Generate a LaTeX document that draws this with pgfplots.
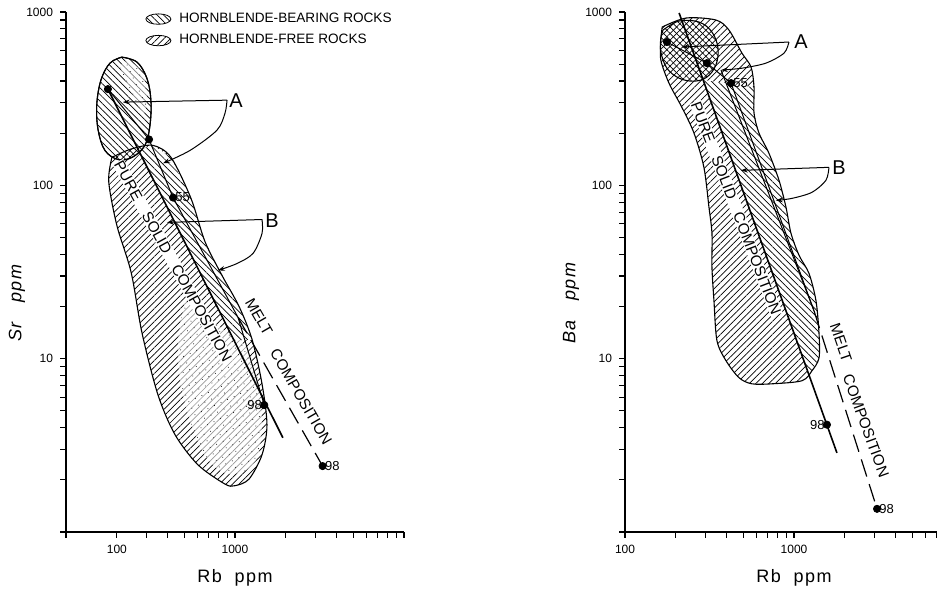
\documentclass[border=0pt]{standalone}
\usepackage{fontspec}
\setmainfont{Liberation Sans}
\newfontfamily\lett[LetterSpace=8]{Liberation Sans}
\usepackage{pgfplots}
\pgfplotsset{compat=1.18}
\usetikzlibrary{patterns.meta,arrows.meta}

\tikzset{
 hbB/.style={pattern={Lines[angle=-45,distance=2.3pt,line width=0.35pt]}},
 hbF/.style={pattern={Lines[angle=45,distance=2.3pt,line width=0.35pt]}},
 stip/.style={pattern={Dots[distance=3.6pt,radius=0.25pt,angle=25]}},
 outl/.style={draw=black,line width=0.55pt},
 arr/.style={line width=0.5pt,-{Stealth[length=3.4pt,width=2.4pt]}},
 lab/.style={font=\fontsize{6.5}{7}\selectfont,inner sep=1pt},
 big/.style={font=\fontsize{10}{11}\selectfont},
 ctext/.style={font=\fontsize{7.6}{8}\selectfont,fill=white,inner sep=0.4pt},
}
\pgfplotsset{
 every axis/.append style={
  scale only axis,
  width=169pt, height=260pt,
  xmin=100, xmax=10000, ymin=1, ymax=1000,
  axis lines=left, axis line style={-, line width=0.8pt},
  tick align=outside, major tick length=3pt, minor tick length=3pt,
  tick style={line width=0.6pt, black},
  every tick label/.append style={font=\fontsize{6}{7}\selectfont},
  ytick={1,10,100,1000}, yticklabels={,10,100,1000},
  xlabel style={at={(axis description cs:0.5,-0.088)}, anchor=center, font=\lett\fontsize{9}{10}\selectfont},
  ylabel style={anchor=center, font=\itshape\lett\fontsize{9}{10}\selectfont},
 },
 ellleg/.style={legend image code/.code={\draw[##1,line width=0.4pt] (6.25pt,0) ellipse (6.25pt and 2.6pt);}},
}

\begin{document}
\begin{tikzpicture}[x=0.5pt,y=0.5pt]
\path[use as bounding box] (0,0) rectangle (937,593);
\clip (0,0) rectangle (937,593);

% ---------------- LEFT PANEL : Sr vs Rb ----------------
\begin{loglogaxis}[at={(33pt,30.5pt)}, anchor=south west,
  xtick={100,1000,10000}, xticklabels={,1000,},
  extra x ticks={200}, extra x tick labels={100},
  xlabel={Rb\ \ ppm},
  ylabel={Sr\ \ \ ppm},
  ylabel style={at={(axis description cs:-0.145,0.44)}},
  legend style={draw=none, fill=none, at={(0.234,1.003)}, anchor=north west,
    font=\fontsize{6.8}{7}\selectfont, row sep=2.5pt, inner sep=0pt,
    nodes={inner sep=1pt},
    /tikz/every odd column/.append style={column sep=3pt}},
  legend cell align=left,
  ellleg,
]
\addlegendimage{hbB,draw=black}
\addlegendentry{HORNBLENDE-BEARING ROCKS}
\addlegendimage{hbF,draw=black}
\addlegendentry{HORNBLENDE-FREE ROCKS}

% hornblende-free blob
\addplot[hbF, draw=none, smooth, tension=0.5] coordinates {
(187,145) (243,162) (327,170) (418,145) (549,84.1) (664,47.4) (838,30.2)
(1057,20.0) (1262,12.9) (1445,7.16) (1546,4.15) (1445,2.79) (1211,2.02)
(1000,1.85) (873,1.89) (604,2.44) (442,3.64) (350,6.19) (282,14.0)
(243,31.4) (200,58.7) (179,105) (187,145)} -- cycle;
% hornblende-bearing band
\addplot[draw=none, preaction={fill=white}, hbB] coordinates {
(271,159) (327,170) (418,145) (549,84.1) (664,47.4) (838,30.2) (1057,20.0)
(1262,12.9) (987,12.7) (751,21.6) (535,42.1) (380,81.8) (271,159)} -- cycle;
% stipple
\addplot[draw=none, preaction={fill=white, fill opacity=0.6}, stip, smooth, tension=0.5] coordinates {
(506,21.6) (873,14.5) (1146,11.9) (1368,7.46) (1445,4.39) (1368,2.75)
(1146,2.25) (873,2.19) (664,2.75) (542,4.39) (473,7.46) (460,12.7) (506,21.6)} -- cycle;
% blob outline
\addplot[outl, smooth, tension=0.5] coordinates {
(187,145) (243,162) (327,170) (418,145) (549,84.1) (664,47.4) (838,30.2)
(1057,20.0) (1262,12.9) (1445,7.16) (1546,4.15) (1445,2.79) (1211,2.02)
(1000,1.85) (873,1.89) (604,2.44) (442,3.64) (350,6.19) (282,14.0)
(243,31.4) (200,58.7) (179,105) (187,145)} -- cycle;
% hornblende-bearing ellipse
\addplot[hbB, outl, smooth, tension=0.6] coordinates {
(214,549) (263,514) (301,415) (318,310) (314,222) (293,170) (246,145)
(203,141) (170,159) (155,208) (152,290) (161,405) (182,507) (214,549)} -- cycle;
\addplot[draw=none, preaction={fill=white, fill opacity=0.5}, stip, smooth, tension=0.5] coordinates {
(222,520) (258,495) (290,415) (302,320) (290,260) (262,300) (228,390) (210,480) (222,520)} -- cycle;
\addplot[outl, smooth, tension=0.6] coordinates {
(214,549) (263,514) (301,415) (318,310) (314,222) (293,170) (246,145)
(203,141) (170,159) (155,208) (152,290) (161,405) (182,507) (214,549)} -- cycle;

% lines
\addplot[line width=0.8pt] coordinates {(177,359) (1920,3.5)};
\addplot[line width=0.5pt] coordinates {(177,359) (310,184)};
\addplot[line width=0.5pt] coordinates {(310,184) (430,85) (1042,17.3)};
\addplot[line width=0.5pt] coordinates {(1042,17.3) (1490,5.4)};
\addplot[line width=0.6pt, dash pattern=on 9pt off 4pt] coordinates {(1042,17.3) (3300,2.4)};

% arrows
\addplot[arr] coordinates {(897,310) (217,302)};
\addplot[arr, smooth] coordinates {(897,310) (873,261) (782,208) (542,159) (375,134)};
\addplot[arr] coordinates {(1445,63.5) (396,61.1)};
\addplot[arr, smooth] coordinates {(1445,63.5) (1445,52.8) (1279,40.5) (1028,35.4) (793,32.3)};

% points
\addplot[only marks, mark=*, mark size=1.8pt, mark options={fill=black,draw=black}] coordinates {(177,359) (310,184) (430,85) (1490,5.4) (3300,2.4)};

% texts
\node[big] at (axis cs:1014,310) {A};
\node[big] at (axis cs:1656,62.8) {B};
\node[lab, right] at (axis cs:430,85) {55};
\node[lab, left] at (axis cs:1490,5.4) {98};
\node[lab, right] at (axis cs:3300,2.4) {98};
\node[ctext, rotate=-61] at (axis cs:430,36.4) {PURE\quad SOLID\quad COMPOSITION};
\node[ctext, rotate=-60] at (axis cs:1387,17.5) {MELT};
\node[ctext, rotate=-60] at (axis cs:2460,6.03) {COMPOSITION};
\end{loglogaxis}

% ---------------- RIGHT PANEL : Ba vs Rb ----------------
\begin{loglogaxis}[at={(312.5pt,30.5pt)}, anchor=south west,
  xtick={100,1000,10000}, xticklabels={100,1000,},
  xlabel={Rb\ \ ppm},
  ylabel={Ba\ \ \ ppm},
  ylabel style={at={(axis description cs:-0.160,0.44)}},
]
% hornblende-free blob
\addplot[hbF, draw=none, smooth, tension=0.5] coordinates {
(166,819) (230,923) (345,899) (412,787) (492,579) (557,481) (580,368) (580,261)
(621,200) (711,153) (815,107) (897,74.6) (960,52.8) (1072,39.4) (1227,31)
(1349,21.6) (1406,14.0) (1406,10.1) (1279,8.53) (1114,7.46) (741,7.16)
(564,7.16) (473,7.76) (396,9.73) (350,12.7) (336,21.6) (327,33.6) (327,52.8)
(314,74.6) (293,127) (256,200) (217,282) (182,389) (163,528) (163,689) (166,819)} -- cycle;
% hornblende-bearing band
\addplot[draw=none, preaction={fill=white}, hbB] coordinates {
(289,405) (580,368) (580,261) (621,200) (711,153) (815,107) (897,74.6) (960,52.8)
(1072,39.4) (1227,31) (1349,21.6) (1406,14.0) (1406,10.1) (1279,8.53) (1227,7.98) (289,405)} -- cycle;
% outline
\addplot[outl, smooth, tension=0.5] coordinates {
(166,819) (230,923) (345,899) (412,787) (492,579) (557,481) (580,368) (580,261)
(621,200) (711,153) (815,107) (897,74.6) (960,52.8) (1072,39.4) (1227,31)
(1349,21.6) (1406,14.0) (1406,10.1) (1279,8.53) (1114,7.46) (741,7.16)
(564,7.16) (473,7.76) (396,9.73) (350,12.7) (336,21.6) (327,33.6) (327,52.8)
(314,74.6) (293,127) (256,200) (217,282) (182,389) (163,528) (163,689) (166,819)} -- cycle;
% hornblende-bearing ellipse (cross-hatched)
\addplot[hbB, outl, smooth, tension=0.6] coordinates {
(168,787) (209,887) (274,875) (327,766) (355,619) (345,494) (305,421)
(256,399) (209,415) (177,474) (163,588) (163,708) (168,787)} -- cycle;

% lines
\addplot[line width=0.8pt] coordinates {(209,987) (1795,2.86)};
\addplot[line width=0.5pt] coordinates {(177,671) (305,507)};
\addplot[line width=0.5pt] coordinates {(305,507) (424,389) (1313,18.9)};
\addplot[line width=0.5pt] coordinates {(370,462) (1313,18.9)};
\addplot[line width=0.6pt, dash pattern=on 9pt off 4pt] coordinates {(1313,18.9) (3100,1.36)};

% arrows
\addplot[arr] coordinates {(933,671) (217,628)};
\addplot[arr, smooth] coordinates {(933,671) (873,579) (682,507) (492,474) (370,462)};
\addplot[arr] coordinates {(1610,127) (485,122)};
\addplot[arr, smooth] coordinates {(1610,127) (1546,107) (1279,91.2) (973,84.1) (782,81.8)};

% points
\addplot[only marks, mark=*, mark size=1.8pt, mark options={fill=black,draw=black}] coordinates {(177,671) (305,507) (424,389) (1567,4.16) (3100,1.36)};

% texts
\node[big] at (axis cs:1099,671) {A};
\node[big] at (axis cs:1845,127) {B};
\node[lab, right] at (axis cs:424,389) {55};
\node[lab, left] at (axis cs:1567,4.16) {98};
\node[lab, right] at (axis cs:3100,1.36) {98};
\node[ctext, rotate=-69] at (axis cs:454,73.6) {PURE\quad SOLID\quad COMPOSITION};
\node[ctext, rotate=-71] at (axis cs:1897,12.4) {MELT};
\node[ctext, rotate=-70] at (axis cs:2667,4.10) {COMPOSITION};
\end{loglogaxis}
\end{tikzpicture}
\end{document}
